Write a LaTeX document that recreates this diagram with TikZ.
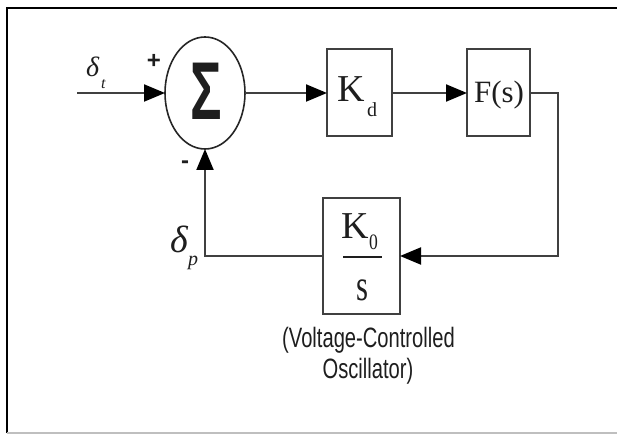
\documentclass[tikz,border=0pt]{standalone}
\usepackage{fontspec}
\usepackage{graphicx}
\setmainfont{Liberation Serif}
\newfontfamily\narrowsans[FakeStretch=0.72]{Liberation Sans}
\newfontfamily\plainsans{Liberation Sans}
\usetikzlibrary{arrows.meta,shapes.geometric}
\definecolor{wirec}{HTML}{404040}
\definecolor{txtc}{HTML}{1E1E1E}
\begin{document}
\begin{tikzpicture}[x=1pt,y=-1pt,
  wire/.style={draw=wirec,line width=2pt},
  arr/.style={-{Triangle[length=21pt,width=17pt,color=black]}},
  blk/.style={draw=wirec,line width=2pt,minimum width=#1,inner sep=0pt,outer sep=0pt},
  sumnode/.style={ellipse,draw=black!85,line width=1.6pt,minimum width=80pt,minimum height=112pt,inner sep=0pt,outer sep=0pt},
  lbl/.style={inner sep=0pt,outer sep=0pt,text=txtc},
  sanstext/.style={lbl,font=\narrowsans\fontsize{28}{28}\selectfont}]
\useasboundingbox (0,0) rectangle (617,435);
% frame
\draw[black,line width=2.5pt] (7,433) -- (7,8) -- (617,8);
\draw[black!25,line width=1.5pt] (7,433) -- (617,433);
% blocks
\node[sumnode] (sum) at (205,93) {};
\node[lbl] (sigma) at (206,91) {\scalebox{0.64}[1]{\plainsans\bfseries\fontsize{82}{82}\selectfont Σ}};
\node[blk=65pt,minimum height=87pt] (kd) at (359.5,93) {};
\node[blk=63pt,minimum height=87pt] (fs) at (498.5,93) {};
\node[blk=77pt,minimum height=116pt] (vco) at (361.5,256) {};
% block texts
\node[lbl,anchor=base west,font=\fontsize{38}{38}\selectfont] (kdK) at (337,102) {K};
\node[lbl,anchor=base west,font=\fontsize{20}{20}\selectfont] (kdd) at (367,117) {d};
\node[lbl,anchor=base,font=\fontsize{31}{31}\selectfont] (fst) at (499,103) {F(s)};
\node[lbl,anchor=base west,font=\fontsize{38}{38}\selectfont] (k0K) at (341,239) {K};
\node[lbl,anchor=base west,font=\fontsize{22}{22}\selectfont] (k0z) at (369,250) {\scalebox{0.8}[1]{0}};
\coordinate (barL) at (343,257);
\coordinate (barR) at (382,257);
\draw[txtc,line width=2pt] (barL) -- (barR);
\node[lbl,anchor=base,font=\fontsize{44}{44}\selectfont] (k0s) at (362,300) {\scalebox{0.7}[1]{s}};
% signal labels
\node[lbl,anchor=base west,font=\itshape\fontsize{28}{28}\selectfont] (dt) at (86,77) {δ};
\node[lbl,anchor=base west,font=\itshape\fontsize{16}{16}\selectfont] (dtsub) at (101,89) {t};
\node[lbl,anchor=base west,font=\itshape\fontsize{38}{38}\selectfont] (dp) at (170,252) {δ};
\node[lbl,anchor=base west,font=\itshape\fontsize{20}{20}\selectfont] (dpsub) at (188,265) {p};
\node[lbl,font=\plainsans\bfseries\fontsize{24}{24}\selectfont] (plus) at (154,61) {+};
\node[lbl,font=\plainsans\bfseries\fontsize{24}{24}\selectfont] (minus) at (185,165) {-};
% caption
\node[sanstext,anchor=base] (cap1) at (368.5,347) {(Voltage-Controlled};
\node[sanstext,anchor=base] (cap2) at (368,378) {Oscillator)};
% connectors
\coordinate (in) at (77,93);
\coordinate (c1) at (558,93);
\coordinate (c2) at (558,256);
\draw[wire,arr] (in) -- (sum.west);
\draw[wire,arr] (sum.east) -- (kd.west);
\draw[wire,arr] (kd.east) -- (fs.west);
\draw[wire,arr] (fs.east) -- (c1) -- (c2) -- (vco.east);
\draw[wire,arr] (vco.west) -| (sum.south);
\end{tikzpicture}
\end{document}
